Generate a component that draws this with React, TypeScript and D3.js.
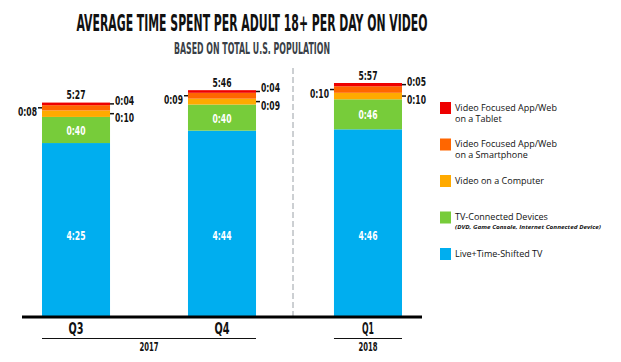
import React from "react";
import * as d3 from "d3";

// minutes per day
const quarters = ["Q3", "Q4", "Q1"];
const years = [
  { label: "2017", from: "Q3", to: "Q4" },
  { label: "2018", from: "Q1", to: "Q1" },
];
const liveTV = [265, 284, 286];
const tvConnected = [40, 40, 46];
const computer = [10, 9, 10];
const smartphone = [8, 9, 10];
const tablet = [4, 4, 5];

const seriesKeys = ["live", "tvConnected", "computer", "smartphone", "tablet"];
const seriesColors = ["#00AEEF", "#77CC3A", "#FFAA00", "#FF6600", "#EE0000"];
const legendLabels = [
  ["Live+Time-Shifted TV"],
  ["TV-Connected Devices"],
  ["Video on a Computer"],
  ["Video Focused App/Web", "on a Smartphone"],
  ["Video Focused App/Web", "on a Tablet"],
];

const W = 621;
const H = 362;
const condensed = "'Liberation Sans Narrow', 'DejaVu Sans Condensed', 'Arial Narrow', sans-serif";
const sans = "'Open Sans', 'Noto Sans', sans-serif";

const fmt = (m: number) => `${Math.floor(m / 60)}:${String(m % 60).padStart(2, "0")}`;

export default function App() {
  const rows = quarters.map((q, i) => ({
    q,
    live: liveTV[i],
    tvConnected: tvConnected[i],
    computer: computer[i],
    smartphone: smartphone[i],
    tablet: tablet[i],
  }));
  const totals = rows.map((r) => r.live + r.tvConnected + r.computer + r.smartphone + r.tablet);

  const x = d3.scaleBand().domain(quarters).range([42, 402]).paddingInner(0.534).paddingOuter(0);
  const y = d3.scaleLinear().domain([0, d3.max(totals) as number]).range([316, 83]);

  const stack = d3.stack<any>().keys(seriesKeys);
  const layers = stack(rows);

  const bw = x.bandwidth();
  const mid = (layer: number, i: number) => (y(layers[layer][i][0]) + y(layers[layer][i][1])) / 2;

  const legendY = d3.scalePoint<number>().domain([4, 3, 2, 1, 0]).range([102, 248]);

  // condensed numeric label, squeezed to the width seen in the reference
  const lab = {
    fontFamily: condensed,
    fontWeight: "bold",
    fontSize: 13,
    fill: "#111",
    textLength: 19,
    lengthAdjust: "spacingAndGlyphs",
  } as any;

  return (
    <svg width={W} height={H} style={{ position: "absolute", left: 0, top: 0, background: "#fff" }}>
      {/* titles */}
      <text x={252} y={31} textAnchor="middle" fontFamily={condensed} fontWeight="bold" fontSize={23}
        textLength={351} lengthAdjust="spacingAndGlyphs" fill="#111">
        AVERAGE TIME SPENT PER ADULT 18+ PER DAY ON VIDEO
      </text>
      <text x={252} y={54} textAnchor="middle" fontFamily={condensed} fontWeight="bold" fontSize={16}
        textLength={156} lengthAdjust="spacingAndGlyphs" fill="#3a3f47">
        BASED ON TOTAL U.S. POPULATION
      </text>

      {/* divider between years */}
      <line x1={293} x2={293} y1={68} y2={316} stroke="#9aa0a6" strokeWidth={1} strokeDasharray="6,3" />

      {/* bars */}
      {layers.map((layer, li) => (
        <g key={seriesKeys[li]} fill={seriesColors[li]}>
          {layer.map((d, i) => (
            <rect key={i} x={x(quarters[i])} y={y(d[1])} width={bw} height={y(d[0]) - y(d[1])} />
          ))}
        </g>
      ))}

      {/* value labels */}
      {rows.map((r, i) => {
        const x0 = x(r.q) as number;
        const x1 = x0 + bw;
        const cx = x0 + bw / 2;
        const ySmart = mid(3, i);
        const yTab = mid(4, i);
        const yComp = mid(2, i);
        return (
          <g key={r.q}>
            <text x={cx} y={y(totals[i]) - 3.5} textAnchor="middle" {...lab}>{fmt(totals[i])}</text>
            <text x={cx} y={mid(1, i) + 5} textAnchor="middle" {...lab} fill="#fff">{fmt(r.tvConnected)}</text>
            <text x={cx} y={y(117)} textAnchor="middle" {...lab} fill="#fff">{fmt(r.live)}</text>
            {/* left: smartphone */}
            <line x1={x0 - 4} x2={x0} y1={ySmart} y2={ySmart} stroke="#111" strokeWidth={1.5} />
            <text x={x0 - 5} y={ySmart + 8.5} textAnchor="end" {...lab}>{fmt(r.smartphone)}</text>
            {/* right: tablet */}
            <line x1={x1} x2={x1 + 4} y1={yTab} y2={yTab} stroke="#111" strokeWidth={1.5} />
            <text x={x1 + 5} y={yTab + 1} {...lab}>{fmt(r.tablet)}</text>
            {/* right: computer */}
            <line x1={x1} x2={x1 + 4} y1={yComp} y2={yComp} stroke="#111" strokeWidth={1.5} />
            <text x={x1 + 5} y={yComp + 8} {...lab}>{fmt(r.computer)}</text>
          </g>
        );
      })}

      {/* axis */}
      <line x1={22} x2={422} y1={317} y2={317} stroke="#000" strokeWidth={3} />
      {quarters.map((q) => (
        <text key={q} x={(x(q) as number) + bw / 2} y={334} textAnchor="middle" fontFamily={condensed}
          fontWeight="bold" fontSize={15} textLength={q === "Q1" ? 12 : 15} lengthAdjust="spacingAndGlyphs"
          fill="#111">{q}</text>
      ))}
      {years.map((yr) => {
        const a = x(yr.from) as number;
        const b = (x(yr.to) as number) + bw;
        return (
          <g key={yr.label}>
            <line x1={a} x2={b} y1={338.5} y2={338.5} stroke="#111" strokeWidth={1} />
            <text x={(a + b) / 2} y={351} textAnchor="middle" fontFamily={condensed} fontWeight="bold"
              fontSize={12} textLength={19} lengthAdjust="spacingAndGlyphs" fill="#111">{yr.label}</text>
          </g>
        );
      })}

      {/* legend */}
      {seriesKeys.map((k, i) => {
        const ty = legendY(i) as number;
        return (
          <g key={k}>
            <rect x={440} y={ty} width={11} height={12} fill={seriesColors[i]} />
            {legendLabels[i].map((t, j) => (
              <text key={j} x={455} y={ty + 8.7 + j * 11} fontFamily={sans} fontSize={9} fill="#111">{t}</text>
            ))}
            {k === "tvConnected" && (
              <text x={455} y={ty + 17.7} fontFamily={sans} fontStyle="italic" fontWeight="bold" fontSize={5.5}
                textLength={146} lengthAdjust="spacingAndGlyphs" fill="#111">
                (DVD, Game Console, Internet Connected Device)
              </text>
            )}
          </g>
        );
      })}
    </svg>
  );
}
